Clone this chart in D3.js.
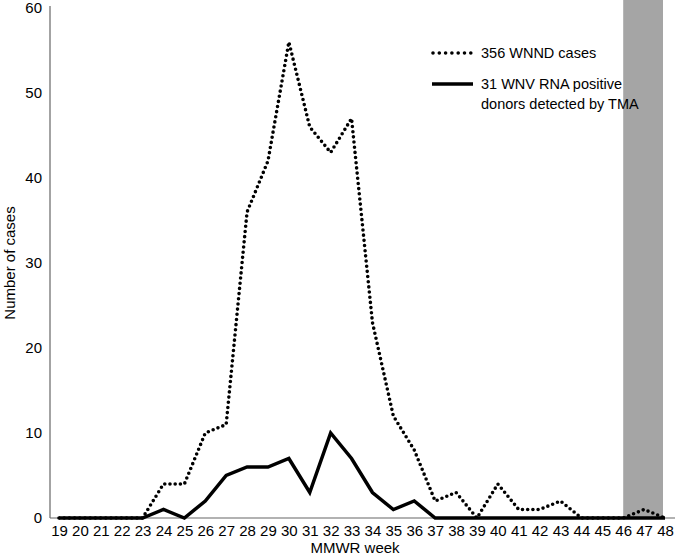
<!DOCTYPE html>
<html>
<head>
<meta charset="utf-8">
<script src="https://cdn.jsdelivr.net/npm/d3@7"></script>
<style>
  body { margin: 0; background: #fff; }
  text { font-family: "Liberation Sans", Arial, sans-serif; }
</style>
</head>
<body>
<div id="chart"></div>
<script>
// data
const weeks = d3.range(19, 49);
const wnndCases = [0, 0, 0, 0, 0, 4, 4, 10, 11, 36, 42, 56, 46, 43, 47, 23, 12, 8, 2, 3, 0, 4, 1, 1, 2, 0, 0, 0, 1, 0];
const donorCases = [0, 0, 0, 0, 0, 1, 0, 2, 5, 6, 6, 7, 3, 10, 7, 3, 1, 2, 0, 0, 0, 0, 0, 0, 0, 0, 0, 0, 0, 0];
const yTicks = [0, 10, 20, 30, 40, 50, 60];
const shadedWeeks = [46, 48];
const legendLabels = ["356 WNND cases", ["31 WNV RNA positive", "donors detected by TMA"]];

const W = 676, H = 558;
const svg = d3.select("#chart").append("svg")
  .attr("width", W)
  .attr("height", H);

const x = d3.scaleLinear().domain([19, 48]).range([59, 665]);
const y = d3.scaleLinear().domain([0, 60]).range([518, 8]);

// shaded band
svg.append("rect")
  .attr("x", x(shadedWeeks[0]))
  .attr("y", 0)
  .attr("width", x(shadedWeeks[1]) - x(shadedWeeks[0]) - 2)
  .attr("height", y(0))
  .attr("fill", "#a5a5a5");

// axes lines
svg.append("line")
  .attr("x1", 50).attr("x2", 50)
  .attr("y1", 6).attr("y2", y(0))
  .attr("stroke", "#666").attr("stroke-width", 1.2);
svg.append("line")
  .attr("x1", 50).attr("x2", 675)
  .attr("y1", y(0)).attr("y2", y(0))
  .attr("stroke", "#666").attr("stroke-width", 1.2);

// y axis labels
const yAxis = svg.append("g")
  .attr("transform", "translate(42,0)")
  .call(d3.axisLeft(y).tickValues(yTicks).tickSize(0).tickPadding(0));
yAxis.select(".domain").remove();
yAxis.selectAll("text").style("font-size", "15px").attr("fill", "#000");

// x axis labels
const xAxis = svg.append("g")
  .attr("transform", `translate(0,${y(0) + 7})`)
  .call(d3.axisBottom(x).tickValues(weeks).tickSize(0).tickPadding(0).tickFormat(d3.format("d")));
xAxis.select(".domain").remove();
xAxis.selectAll("text").style("font-size", "15px").attr("fill", "#000");

// axis titles
svg.append("text")
  .attr("transform", "rotate(-90)")
  .attr("x", -263)
  .attr("y", 15)
  .attr("text-anchor", "middle")
  .style("font-size", "15px")
  .text("Number of cases");

svg.append("text")
  .attr("x", 355)
  .attr("y", 553)
  .attr("text-anchor", "middle")
  .style("font-size", "15px")
  .text("MMWR week");

// lines
const line = d3.line()
  .x((d, i) => x(weeks[i]))
  .y(d => y(d));

svg.append("path")
  .datum(donorCases)
  .attr("d", line)
  .attr("fill", "none")
  .attr("stroke", "#000")
  .attr("stroke-width", 3.5)
  .attr("stroke-linejoin", "miter");

svg.append("path")
  .datum(wnndCases)
  .attr("d", line)
  .attr("fill", "none")
  .attr("stroke", "#000")
  .attr("stroke-width", 3.6)
  .attr("stroke-linecap", "round")
  .attr("stroke-dasharray", "0 5.2");

// legend
const lg = svg.append("g").attr("transform", "translate(433,53)");
lg.append("line")
  .attr("x1", 0).attr("x2", 38).attr("y1", 0).attr("y2", 0)
  .attr("stroke", "#000").attr("stroke-width", 3.6)
  .attr("stroke-linecap", "round").attr("stroke-dasharray", "0 6.3");
lg.append("text")
  .attr("x", 48).attr("y", 5)
  .style("font-size", "14.5px")
  .text(legendLabels[0]);

lg.append("line")
  .attr("x1", -1).attr("x2", 40).attr("y1", 31).attr("y2", 31)
  .attr("stroke", "#000").attr("stroke-width", 3.5);
lg.append("text")
  .attr("x", 48).attr("y", 36)
  .style("font-size", "14.5px")
  .selectAll("tspan")
  .data(legendLabels[1])
  .join("tspan")
    .attr("x", 48)
    .attr("dy", (d, i) => i ? 20 : 0)
    .text(d => d);
</script>
</body>
</html>
